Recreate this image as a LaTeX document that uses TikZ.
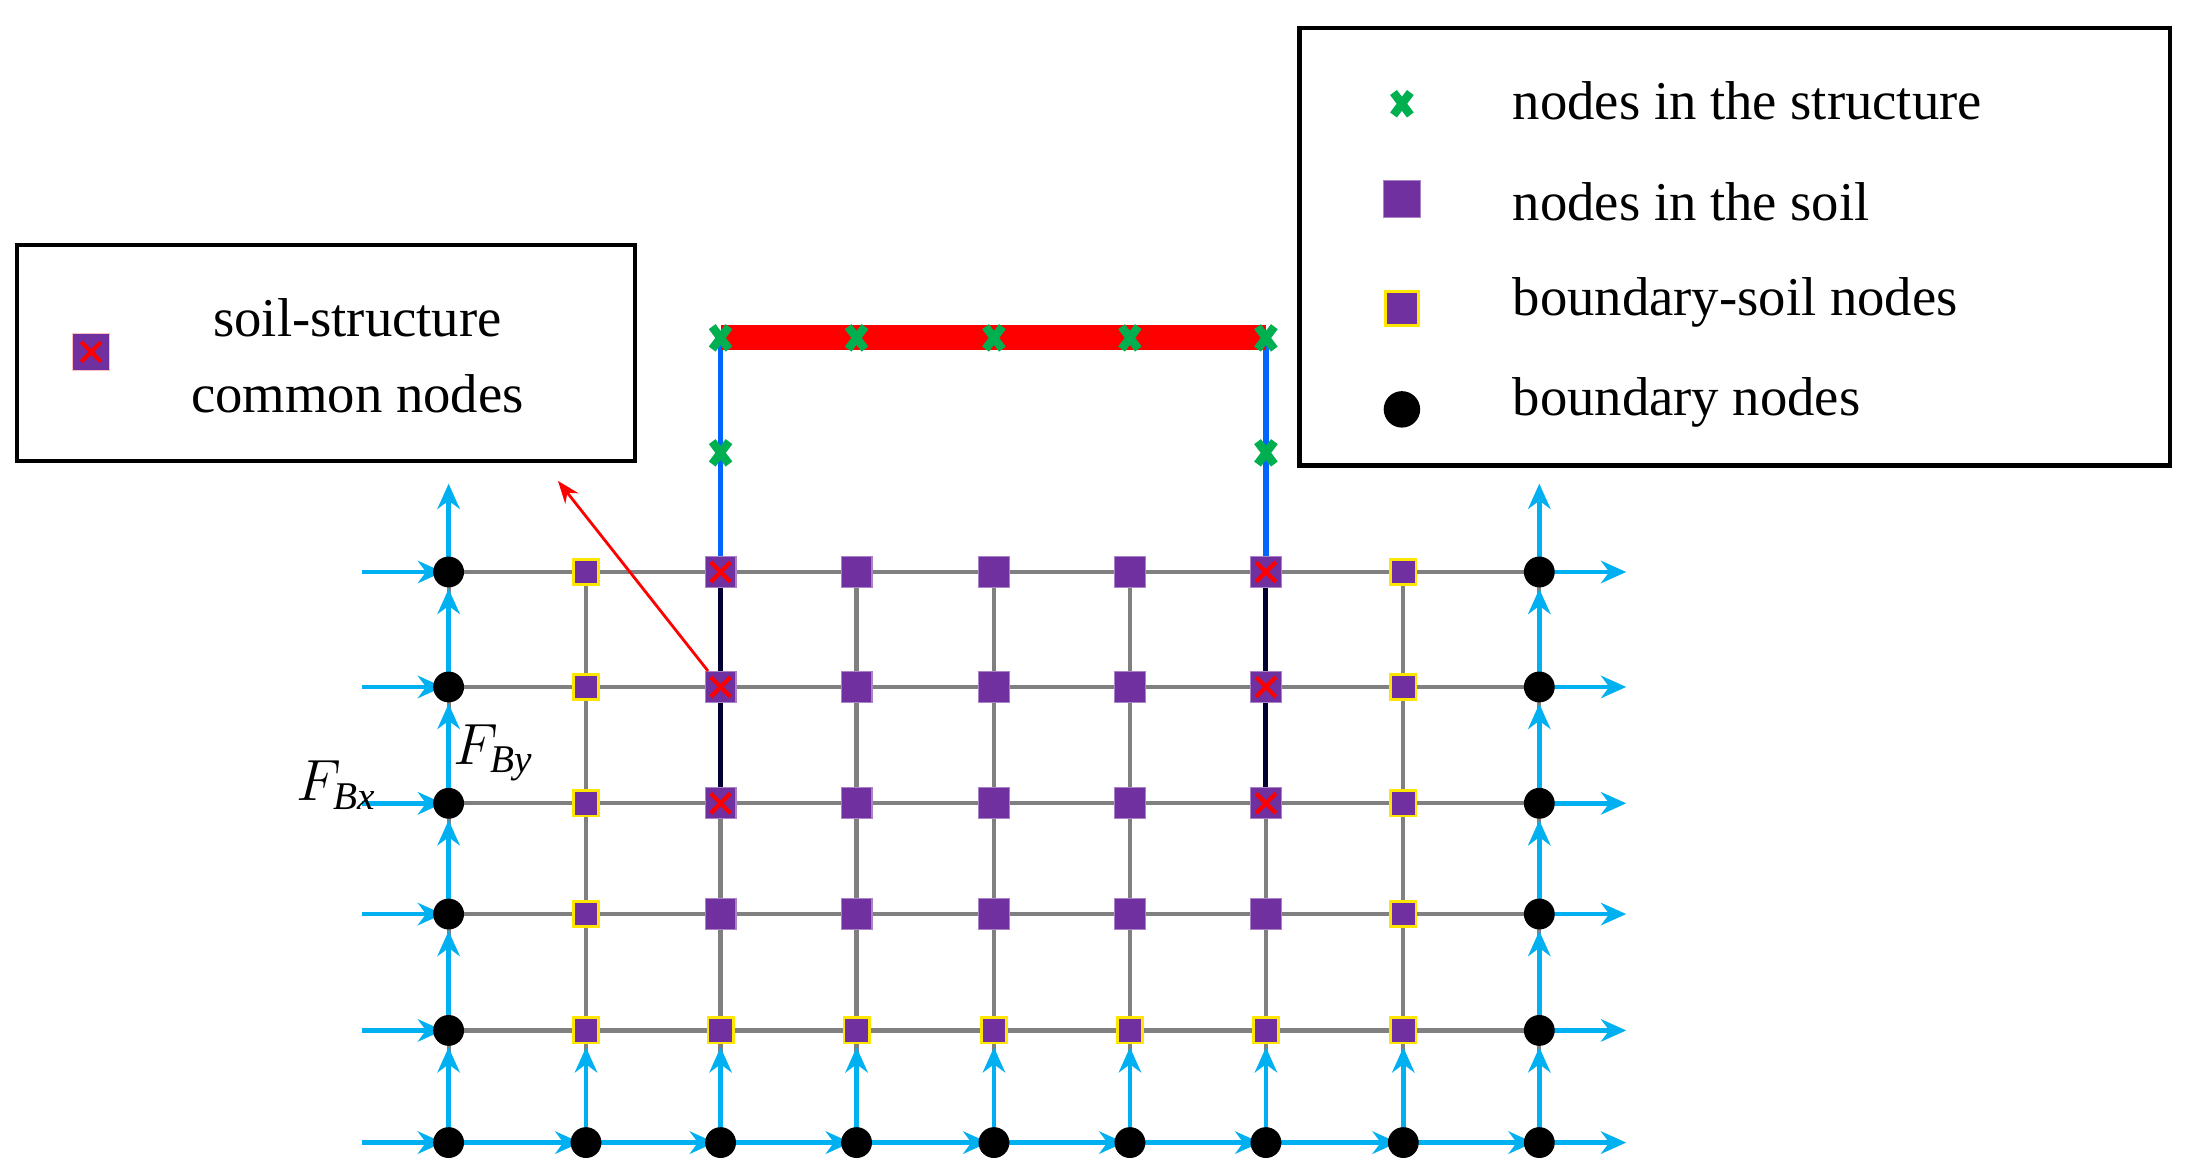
\documentclass[tikz,border=0pt]{standalone}
\usepackage{fontspec}
\setmainfont{Liberation Serif}
\usetikzlibrary{arrows.meta}
\definecolor{cy}{RGB}{0,176,240}
\definecolor{pu}{RGB}{112,48,160}
\definecolor{gr}{RGB}{0,176,80}
\definecolor{yl}{RGB}{255,230,0}
\begin{document}
\begin{tikzpicture}[x=0.5pt,y=-0.5pt,
 ar/.style={cy,line width=1.6pt,-{Stealth[length=9pt,width=8pt]}},
 bn/.style={circle,fill=black,inner sep=0pt,minimum size=11pt},
 sn/.style={rectangle,fill=pu,draw=pu!60,inner sep=0pt,minimum size=11pt},
 bs/.style={rectangle,fill=pu,draw=yl,line width=1pt,inner sep=0pt,minimum size=9pt},
 gx/.style={gr,line width=3pt},
 txt/.style={font=\fontsize{19.5}{23}\selectfont,anchor=west}]
\useasboundingbox (0,0) rectangle (1560,837);
\def\xs{320,418,514,611,709,806,903,1001,1098}
\def\ys{408,490,573,652,735,815}
% grid
\foreach \y in \ys {\draw[gray,line width=1.5pt] (320,\y) -- (1098,\y);}
\foreach \x in \xs {\draw[gray,line width=1.5pt] (\x,408) -- (\x,815);}
\foreach \x in {514,903} {\draw[black!80!blue,line width=1.8pt] (\x,408) -- (\x,573);
 \draw[blue!60!cyan,line width=2pt] (\x,241) -- (\x,408);}
\draw[red,line width=9pt] (514,241) -- (903,241);
% arrows
\foreach \y in \ys {\draw[ar] (258,\y) -- (316,\y); \draw[ar] (1098,\y) -- (1160,\y);}
\foreach \x in {320,1098} {
 \draw[ar] (\x,408) -- (\x,345);
 \draw[ar] (\x,490) -- (\x,420); \draw[ar] (\x,573) -- (\x,502);
 \draw[ar] (\x,652) -- (\x,585); \draw[ar] (\x,735) -- (\x,664);
 \draw[ar] (\x,815) -- (\x,747);}
\foreach \x/\px in {418/320,514/418,611/514,709/611,806/709,903/806,1001/903} {
 \draw[ar] (\px,815) -- (\x-4,815);
 \draw[ar] (\x,815) -- (\x,747);}
\draw[ar] (1001,815) -- (1094,815);
% nodes
\foreach \y [count=\i] in \ys {
 \node[bn] (l\i) at (320,\y) {}; \node[bn] (r\i) at (1098,\y) {};}
\foreach \x [count=\i] in {418,514,611,709,806,903,1001} {\node[bn] (b\i) at (\x,815) {};}
\foreach \y [count=\i] in {408,490,573,652,735} {
 \node[bs] at (418,\y) {}; \node[bs] at (1001,\y) {};}
\foreach \x in {514,611,709,806,903} {\node[bs] at (\x,735) {};}
\foreach \x in {611,709,806} {\foreach \y in {408,490,573,652} {\node[sn] at (\x,\y) {};}}
\foreach \x in {514,903} {\node[sn] at (\x,652) {};
 \foreach \y in {408,490,573} {\node[sn] (c\x\y) at (\x,\y) {};
  \draw[red,line width=1.5pt] (\x-7,\y-7) -- (\x+7,\y+7) (\x-7,\y+7) -- (\x+7,\y-7);}}
\foreach \x/\y in {514/241,611/241,709/241,806/241,903/241,514/323,903/323} {
 \draw[gx] (\x-6,\y-8) -- (\x+6,\y+8) (\x-6,\y+8) -- (\x+6,\y-8);}
% labels
\node[font=\fontsize{20}{24}\selectfont] at (240,560) {$F_{\mathit{Bx}}$};
\node[font=\fontsize{20}{24}\selectfont] at (352,537) {$F_{\mathit{By}}$};
% left box
\draw[line width=1.5pt] (12,175) rectangle (453,329);
\node[sn,draw=pink,minimum size=13pt] (lk) at (65,251) {};
\draw[red,line width=1.5pt] (58,244) -- (72,258) (58,258) -- (72,244);
\node[font=\fontsize{19.5}{27}\selectfont,align=center] at (255,254) {soil-structure\\common nodes};
\coordinate (at) at (398,343);
\draw[red,line width=1pt,-{Stealth[length=8pt]}] (c514490) -- (at);
% right box
\draw[line width=1.5pt] (927,20) rectangle (1548,332);
\draw[gx] (994,66) -- (1006,82) (994,82) -- (1006,66);
\node[txt] at (1072,72) {nodes in the structure};
\node[sn,minimum size=13pt] at (1000,142) {};
\node[txt] at (1072,144) {nodes in the soil};
\node[bs,minimum size=12pt] at (1000,220) {};
\node[txt] at (1072,216) {boundary-soil nodes};
\node[bn,minimum size=13pt] at (1000,292) {};
\node[txt] at (1072,287) {boundary nodes};
\end{tikzpicture}
\end{document}
